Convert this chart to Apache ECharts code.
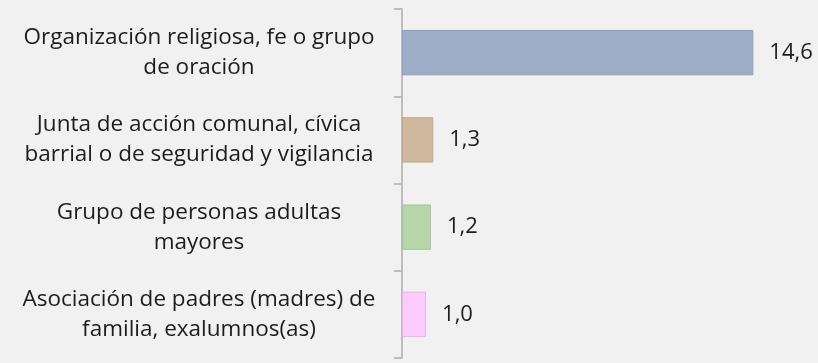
<!DOCTYPE html>
<html>
<head>
<meta charset="utf-8">
<script src="https://cdn.jsdelivr.net/npm/echarts@6/dist/echarts.min.js"></script>
<style>
  html, body { margin: 0; padding: 0; background: #f1f1f1; }
  #chart { width: 818px; height: 363px; }
</style>
</head>
<body>
<div id="chart"></div>
<script>
// Participation in organizations (%)
const categories = [
  'Organización religiosa, fe o grupo\nde oración',
  'Junta de acción comunal, cívica\nbarrial o de seguridad y vigilancia',
  'Grupo de personas adultas\nmayores',
  'Asociación de padres (madres) de\nfamilia, exalumnos(as)'
];
const values = [14.6, 1.3, 1.2, 1.0];
const barColors = ['#9eaec8', '#cfb89b', '#b6d6a9', '#fdcbfd'];
const barBorders = ['#8e9eb8', '#bfa88b', '#a3c596', '#e6b4e6'];

const chart = echarts.init(document.getElementById('chart'));
chart.setOption({
  backgroundColor: '#f1f1f1',
  animation: false,
  grid: { left: 402, right: 31, top: 9, bottom: 5, containLabel: false },
  xAxis: {
    type: 'value',
    min: 0,
    max: 16,
    show: false
  },
  yAxis: {
    type: 'category',
    data: categories,
    inverse: true,
    axisLine: { show: true, lineStyle: { color: '#bdbdbd', width: 2 } },
    axisTick: { show: true, length: 8, lineStyle: { color: '#bdbdbd', width: 2 } },
    axisLabel: {
      margin: 203,
      align: 'center',
      fontFamily: 'Open Sans',
      fontSize: 22.5,
      lineHeight: 30,
      padding: [6, 0, 0, 0],
      color: '#1c1c1c'
    }
  },
  series: [{
    type: 'bar',
    barCategoryGap: '48%',
    data: values.map((v, i) => ({
      value: v,
      itemStyle: { color: barColors[i], borderColor: barBorders[i], borderWidth: 1 }
    })),
    label: {
      show: true,
      position: 'right',
      distance: 16,
      fontFamily: 'Open Sans',
      fontSize: 22,
      padding: [4, 0, 0, 0],
      color: '#1c1c1c',
      formatter: p => p.value.toFixed(1).replace('.', ',')
    }
  }]
});
</script>
</body>
</html>
